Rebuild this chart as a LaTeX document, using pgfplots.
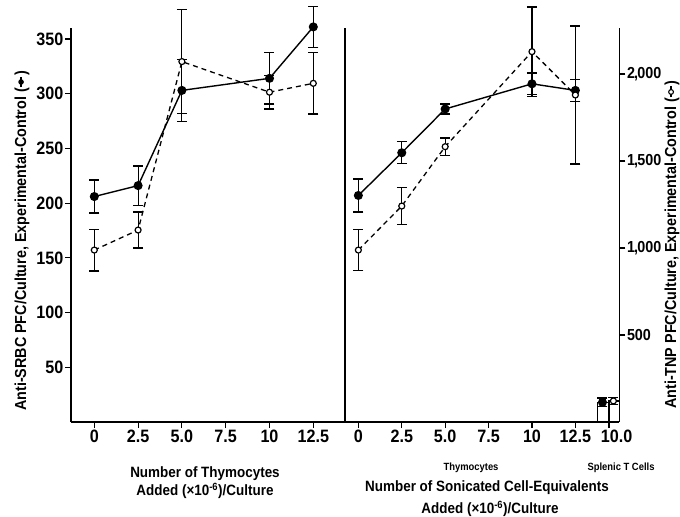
\documentclass[border=0pt]{standalone}
\usepackage{fontspec}
\setmainfont{Liberation Sans}[FakeStretch=0.9]
\usepackage{pgfplots}
\pgfplotsset{compat=1.18}
\pgfplotsset{
  base/.style={scale only axis, height=394bp, ymin=0, clip=false, anchor=south west,
    tick align=outside, major tick length=6bp,
    axis line style={-, line width=1.4bp},
    tick style={line width=1.2bp, black},
    /pgf/number format/assume math mode=true,
    ticklabel style={font=\fontsize{18}{20}\selectfont\bfseries},
    xticklabel style={inner sep=1.5bp},
    yticklabel style={inner sep=1.5bp}},
  filled/.style={black, line width=1.4bp, mark=*, mark size=3.8bp, mark options={solid},
    error bars/.cd, y dir=both, y explicit,
    error bar style={line width=1.2bp, solid},
    error mark options={rotate=90, mark size=5bp, line width=1.3bp, solid}},
  open/.style={black, line width=1.3bp, dash pattern=on 5bp off 4bp, mark=*, mark size=3bp,
    mark options={solid, fill=white, line width=1.2bp},
    error bars/.cd, y dir=both, y explicit,
    error bar style={line width=1.2bp, solid},
    error mark options={rotate=90, mark size=5bp, line width=1.3bp, solid}},
}
\begin{document}
\begin{tikzpicture}
\useasboundingbox (0,0) rectangle (680bp,517bp);
% ---------- left panel, SRBC scale
\begin{axis}[base, at={(71bp,95bp)}, width=274bp, xmin=-1.33, xmax=14.31, ymax=360,
  axis x line*=bottom, axis y line*=left,
  xtick={0,2.5,5,7.5,10,12.5}, xticklabels={0,2.5,5.0,7.5,10,12.5},
  ytick={50,100,...,350}]
\addplot[filled] coordinates {(0,206) +- (0,15) (2.5,216) +- (0,18) (5,303) +- (0,28.5) (10,314) +- (0,23.5) (12.5,361) +- (0,18.5)};
\end{axis}
% ---------- left panel, TNP scale
\begin{axis}[base, at={(71bp,95bp)}, width=274bp, xmin=-1.33, xmax=14.31, ymax=2264, hide axis]
\addplot[open] coordinates {(0,988) +- (0,120) (2.5,1103) +- (0,103) (5,2071) +- (0,300) (10,1895) +- (0,96) (12.5,1946) +- (0,177)};
\end{axis}
% ---------- right panel, SRBC scale
\begin{axis}[base, at={(345bp,95bp)}, width=274.3bp, xmin=-0.77, xmax=15.03, ymax=360,
  axis x line*=bottom, axis y line*=left, ytick=\empty,
  xtick={0,2.5,5,7.5,10,12.5,14.44}, xticklabels={0,2.5,5.0,7.5,10,12.5,\hspace*{15bp}10.0}]
\addplot[black, line width=1.3bp, mark=none] coordinates {(13.77,0) (13.77,18) (14.44,18) (14.44,0)};
\addplot[filled] coordinates {(0,207) +- (0,15) (2.5,246) +- (0,10) (5,286) +- (0,4.5) (10,309) +- (0,10) (12.5,303) +- (0,10)};
\addplot[only marks, filled] coordinates {(14.06,18) +- (0,4)};
\end{axis}
% ---------- right panel, TNP scale
\begin{axis}[base, at={(345bp,95bp)}, width=274.3bp, xmin=-0.77, xmax=15.03, ymax=2264,
  axis y line*=right, axis x line=none, xtick=\empty,
  ytick={500,1000,1500,2000},
  yticklabels={500,1{\kern-0.8bp,\kern-0.8bp}000,1{\kern-0.8bp,\kern-0.8bp}500,2{\kern-0.8bp,\kern-0.8bp}000},
  yticklabel style={anchor=west, font=\fontsize{16}{18}\selectfont\bfseries}]
\addplot[black, line width=1.3bp, mark=none] coordinates {(14.44,0) (14.44,121) (15.03,121)};
\addplot[open] coordinates {(0,988) +- (0,119) (2.5,1241) +- (0,107) (5,1582) +- (0,50) (10,2128) +- (0,257) (12.5,1879) +- (0,396)};
\addplot[only marks, open] coordinates {(14.69,121) +- (0,20)};
\end{axis}
% ---------- labels
\node[rotate=90, font=\fontsize{16}{18}\selectfont\bfseries] at (22bp,276bp)
  {Anti-SRBC PFC/Culture, Experimental-Control (\tikz[baseline=-0.6ex]{\draw[line width=1.2pt](0,0)--(11pt,0);\fill(5.5pt,0) circle (2.8pt);})};
\node[rotate=90, font=\fontsize{16}{18}\selectfont\bfseries] at (672bp,272bp)
  {Anti-TNP PFC/Culture, Experimental-Control (\tikz[baseline=-0.6ex]{\draw[line width=1.2pt](0,0)--(11pt,0);\draw[fill=white,line width=1.1pt](5.5pt,0) circle (2.4pt);})};
\node[font=\fontsize{15}{17}\selectfont\bfseries] at (205bp,43bp) {Number of Thymocytes};
\node[font=\fontsize{15}{17}\selectfont\bfseries] at (205bp,26bp) {Added (×10\textsuperscript{-6})/Culture};
\node[font=\fontsize{10.5}{12}\selectfont\bfseries] at (471bp,49bp) {Thymocytes};
\node[font=\fontsize{10.5}{12}\selectfont\bfseries] at (621bp,49bp) {Splenic T Cells};
\node[font=\fontsize{15}{17}\selectfont\bfseries] at (487bp,29bp) {Number of Sonicated Cell-Equivalents};
\node[font=\fontsize{15}{17}\selectfont\bfseries] at (490bp,8bp) {Added (×10\textsuperscript{-6})/Culture};
\end{tikzpicture}
\end{document}
